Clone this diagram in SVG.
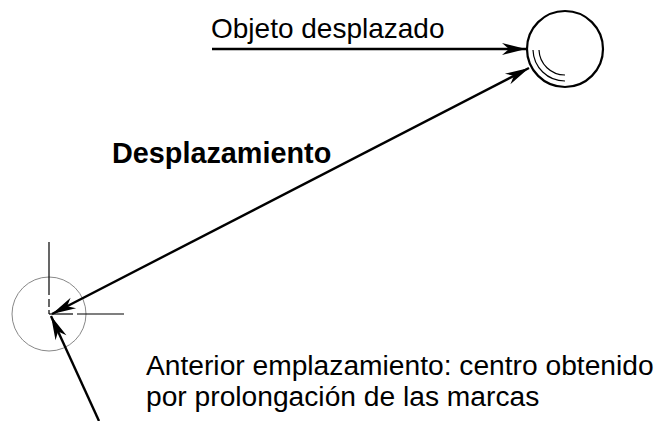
<svg xmlns="http://www.w3.org/2000/svg" width="671" height="421" viewBox="0 0 671 421">
<style>
.t{font-family:"Liberation Sans",Arial,sans-serif;font-size:28px;fill:#000}
.b{font-weight:bold;font-size:28.8px}
.arr{stroke:#000;stroke-width:2.4;fill:none}
.thin{stroke:#000;stroke-width:1.2;fill:none}
</style>
<defs>
<marker id="ah" markerUnits="userSpaceOnUse" markerWidth="30" markerHeight="14" viewBox="-26 -7 28 14" refX="0" refY="0" orient="auto-start-reverse">
<path d="M0,0 L-24,-6 L-17,0 L-24,6 Z" fill="#000"/>
</marker>
</defs>
<g id="objeto">
<circle cx="565" cy="49" r="38" fill="#fff" stroke="#000" stroke-width="2.2"/>
<path d="M533,50 A32,32 0 0 0 565,81" class="thin" stroke-width="1.5"/>
<path d="M539,50 A26,26 0 0 0 565,75" class="thin" stroke-width="1.5"/>
</g>
<g id="anterior">
<circle cx="49" cy="314" r="37" fill="none" stroke="#888" stroke-width="1"/>
<line x1="49" y1="242" x2="49" y2="295" class="thin"/>
<line x1="49" y1="299" x2="49" y2="307" class="thin"/>
<line x1="49" y1="310" x2="49" y2="314" class="thin"/>
<line x1="49" y1="314" x2="73" y2="314" class="thin"/>
<line x1="77" y1="314" x2="124" y2="314" class="thin"/>
</g>
<g id="connectors">
<line x1="212" y1="49" x2="526" y2="49" class="arr" marker-end="url(#ah)"/>
<line x1="529" y1="68" x2="52" y2="314" class="arr" marker-start="url(#ah)" marker-end="url(#ah)"/>
<line x1="99" y1="421" x2="51" y2="316" class="arr" marker-end="url(#ah)"/>
</g>
<g id="labels">
<text class="t" x="211" y="38">Objeto desplazado</text>
<text class="t b" x="112" y="163">Desplazamiento</text>
<text class="t" x="146" y="375" style="font-size:28.2px">Anterior emplazamiento: centro obtenido</text>
<text class="t" x="146" y="406" style="font-size:28.2px">por prolongación de las marcas</text>
</g>
</svg>
